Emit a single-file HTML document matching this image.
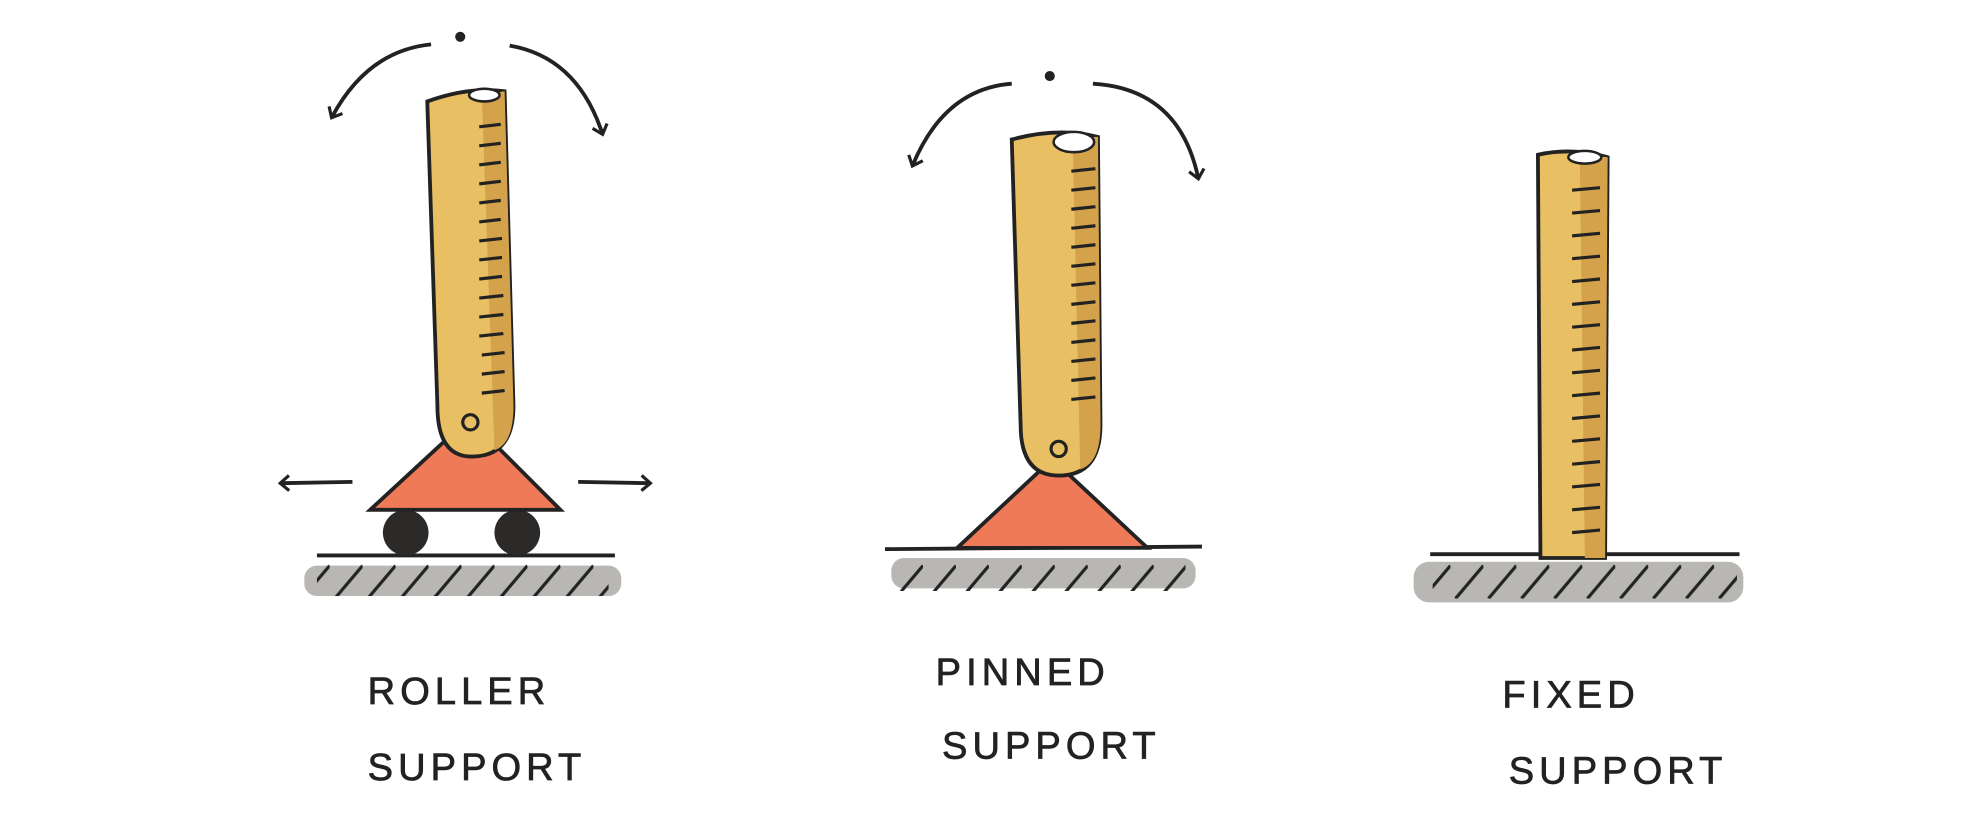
<!DOCTYPE html>
<html><head><meta charset="utf-8"><style>
html,body{margin:0;padding:0;background:#fff;width:1988px;height:837px;overflow:hidden}
svg{display:block}
text{font-family:"Liberation Sans",sans-serif;font-size:30px;fill:#222;stroke:#222;stroke-width:0.6;letter-spacing:4px}
</style></head><body>
<svg width="1988" height="837" viewBox="0 0 1568 660" preserveAspectRatio="none" xmlns="http://www.w3.org/2000/svg">
<defs>
<pattern id="hatch" width="26" height="40" patternUnits="userSpaceOnUse">
<line x1="4" y1="32" x2="26" y2="6" stroke="#222" stroke-width="2.5"/>
</pattern>
<marker id="ah" markerWidth="14" markerHeight="14" refX="7" refY="7" orient="auto" markerUnits="userSpaceOnUse">
<path d="M1,1 L8,7 L1,13" fill="none" stroke="#222" stroke-width="2.5"/>
</marker>
</defs>

<g>
<rect x="240" y="446" width="250" height="24" rx="10" fill="#b9b7b3"/>
<rect x="250" y="440" width="230" height="30" fill="url(#hatch)"/>
<line x1="250" y1="438" x2="485" y2="438" stroke="#222" stroke-width="3"/>
<circle cx="320" cy="420" r="18" fill="#2b2a28"/>
<circle cx="408" cy="420" r="18" fill="#2b2a28"/>
<polygon points="370,330 442,402 292,402" fill="#ee7a58" stroke="#222" stroke-width="3"/>
<path d="M337,80 Q370,68 398,72 L405,320 Q405,360 372,360 Q345,360 345,320 Z" fill="#e8c063" stroke="#222" stroke-width="3"/>
<path d="M380,75 L398,72 L405,320 Q405,350 390,355 Z" fill="#d4a24a"/>
<ellipse cx="382" cy="75" rx="12" ry="5" fill="#fff" stroke="#222" stroke-width="2"/>
<circle cx="371" cy="333" r="6" fill="none" stroke="#222" stroke-width="2.5"/>
<g stroke="#222" stroke-width="2.5">
<line x1="378" y1="100" x2="395" y2="98"/><line x1="378" y1="115" x2="395" y2="113"/><line x1="378" y1="130" x2="395" y2="128"/><line x1="378" y1="145" x2="395" y2="143"/><line x1="378" y1="160" x2="395" y2="158"/><line x1="378" y1="175" x2="395" y2="173"/><line x1="378" y1="190" x2="396" y2="188"/><line x1="378" y1="205" x2="396" y2="203"/><line x1="378" y1="220" x2="396" y2="218"/><line x1="378" y1="235" x2="397" y2="233"/><line x1="378" y1="250" x2="397" y2="248"/><line x1="378" y1="265" x2="397" y2="263"/><line x1="380" y1="280" x2="398" y2="278"/><line x1="380" y1="295" x2="398" y2="293"/><line x1="380" y1="310" x2="398" y2="308"/>
</g>
<circle cx="363" cy="29" r="4" fill="#222"/>
<path d="M340,35 Q290,40 262,92" fill="none" stroke="#222" stroke-width="3" marker-end="url(#ah)"/>
<path d="M402,36 Q455,45 475,105" fill="none" stroke="#222" stroke-width="3" marker-end="url(#ah)"/>
<line x1="278" y1="380" x2="222" y2="381" stroke="#222" stroke-width="3" marker-end="url(#ah)"/>
<line x1="456" y1="380" x2="512" y2="381" stroke="#222" stroke-width="3" marker-end="url(#ah)"/>
<text x="290" y="555">ROLLER</text>
<text x="290" y="615">SUPPORT</text>
</g>

<g>
<rect x="703" y="440" width="240" height="24" rx="10" fill="#b9b7b3"/>
<rect x="710" y="436" width="225" height="30" fill="url(#hatch)"/>
<line x1="698" y1="433" x2="948" y2="431" stroke="#222" stroke-width="3"/>
<polygon points="830,362 905,432 755,432" fill="#ee7a58" stroke="#222" stroke-width="3"/>
<path d="M798,110 Q835,100 866,108 L868,335 Q868,375 835,375 Q805,375 805,335 Z" fill="#e8c063" stroke="#222" stroke-width="3"/>
<path d="M846,108 L866,108 L868,335 Q868,365 852,370 Z" fill="#d4a24a"/>
<ellipse cx="847" cy="112" rx="16" ry="8" fill="#fff" stroke="#222" stroke-width="2"/>
<circle cx="835" cy="354" r="6" fill="none" stroke="#222" stroke-width="2.5"/>
<g stroke="#222" stroke-width="2.5">
<line x1="845" y1="135" x2="864" y2="133"/><line x1="845" y1="150" x2="864" y2="148"/><line x1="845" y1="165" x2="864" y2="163"/><line x1="845" y1="180" x2="864" y2="178"/><line x1="845" y1="195" x2="864" y2="193"/><line x1="845" y1="210" x2="864" y2="208"/><line x1="845" y1="225" x2="864" y2="223"/><line x1="845" y1="240" x2="864" y2="238"/><line x1="845" y1="255" x2="864" y2="253"/><line x1="845" y1="270" x2="864" y2="268"/><line x1="845" y1="285" x2="864" y2="283"/><line x1="845" y1="300" x2="864" y2="298"/><line x1="845" y1="315" x2="864" y2="313"/>
</g>
<circle cx="828" cy="60" r="4" fill="#222"/>
<path d="M798,66 Q745,70 720,130" fill="none" stroke="#222" stroke-width="3" marker-end="url(#ah)"/>
<path d="M862,66 Q930,70 945,140" fill="none" stroke="#222" stroke-width="3" marker-end="url(#ah)"/>
<text x="738" y="540">PINNED</text>
<text x="743" y="598">SUPPORT</text>
</g>

<g>
<rect x="1115" y="443" width="260" height="32" rx="12" fill="#b9b7b3"/>
<rect x="1130" y="440" width="240" height="32" fill="url(#hatch)"/>
<line x1="1128" y1="437" x2="1372" y2="437" stroke="#222" stroke-width="3"/>
<path d="M1213,122 Q1240,116 1268,124 L1266,440 L1215,440 Z" fill="#e8c063" stroke="#222" stroke-width="3"/>
<path d="M1246,122 L1268,124 L1266,440 L1250,440 Z" fill="#d4a24a"/>
<ellipse cx="1250" cy="124" rx="13" ry="5" fill="#fff" stroke="#222" stroke-width="2"/>
<g stroke="#222" stroke-width="2.5">
<line x1="1240" y1="150" x2="1262" y2="148"/><line x1="1240" y1="168" x2="1262" y2="166"/><line x1="1240" y1="186" x2="1262" y2="184"/><line x1="1240" y1="204" x2="1262" y2="202"/><line x1="1240" y1="222" x2="1262" y2="220"/><line x1="1240" y1="240" x2="1262" y2="238"/><line x1="1240" y1="258" x2="1262" y2="256"/><line x1="1240" y1="276" x2="1262" y2="274"/><line x1="1240" y1="294" x2="1262" y2="292"/><line x1="1240" y1="312" x2="1262" y2="310"/><line x1="1240" y1="330" x2="1262" y2="328"/><line x1="1240" y1="348" x2="1262" y2="346"/><line x1="1240" y1="366" x2="1262" y2="364"/><line x1="1240" y1="384" x2="1262" y2="382"/><line x1="1240" y1="402" x2="1262" y2="400"/><line x1="1240" y1="420" x2="1262" y2="418"/>
</g>
<text x="1185" y="558">FIXED</text>
<text x="1190" y="618">SUPPORT</text>
</g>
</svg>
</body></html>
